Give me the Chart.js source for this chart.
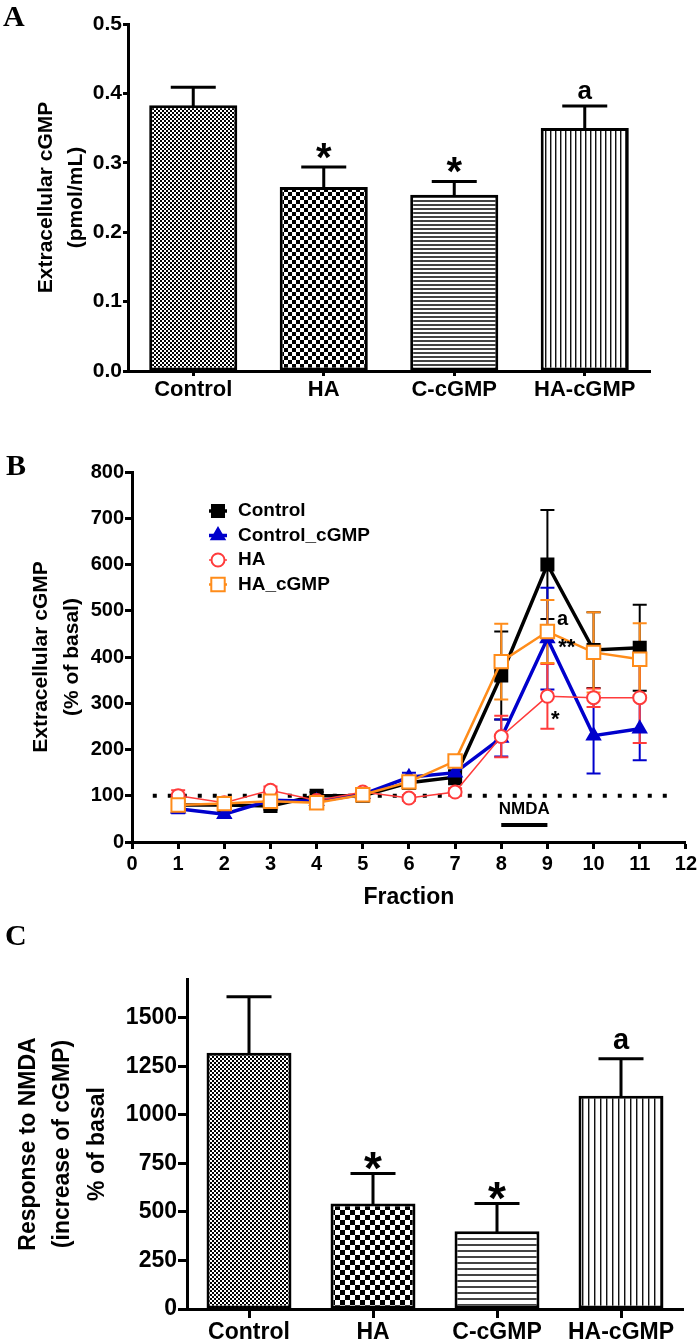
<!DOCTYPE html>
<html>
<head>
<meta charset="utf-8">
<script src="https://cdn.jsdelivr.net/npm/chart.js@4.4.0/dist/chart.umd.min.js"></script>
<style>
body { margin: 0; background: #fff; width: 700px; height: 1343px; position: relative; overflow: hidden; }
canvas { position: absolute; left: 0; }
.panel { position: absolute; font: bold 30px "Liberation Serif", "DejaVu Serif", serif; line-height: 30px; }
</style>
</head>
<body>
<canvas id="chartA" width="700" height="420" style="top:0"></canvas>
<canvas id="chartB" width="700" height="500" style="top:420px"></canvas>
<canvas id="chartC" width="700" height="423" style="top:920px"></canvas>
<div class="panel" style="left:3px;top:1px">A</div>
<div class="panel" style="left:6px;top:450px">B</div>
<div class="panel" style="left:5px;top:920px">C</div>
<script>
// ---- data ----
var groups = ['Control', 'HA', 'C-cGMP', 'HA-cGMP'];
var marks = ['', '*', '*', 'a'];

// panel A: extracellular cGMP (pmol/mL)
var cgmpMean = [0.383, 0.265, 0.254, 0.350];
var cgmpSem = [0.026, 0.029, 0.019, 0.032];
var ticksA = [0, 0.1, 0.2, 0.3, 0.4, 0.5];

// panel B: time course, % of basal
var fractions = [1, 2, 3, 4, 5, 6, 7, 8, 9, 10, 11];
var ticksBx = [0, 1, 2, 3, 4, 5, 6, 7, 8, 9, 10, 11, 12];
var ticksBy = [0, 100, 200, 300, 400, 500, 600, 700, 800];
var controlB = [80, 80, 78, 100, 100, 128, 140, 360, 600, 415, 420];
var controlBErr = [8, 8, 8, 8, 8, 12, 15, 95, 118, 82, 93];
var controlCgmpB = [72, 60, 90, 88, 103, 140, 150, 225, 440, 230, 245];
var controlCgmpBErr = [10, 8, 8, 8, 8, 10, 15, 40, 110, 82, 68];
var haB = [100, 85, 112, 90, 108, 95, 108, 228, 315, 312, 312];
var haBErr = [12, 6, 8, 6, 6, 6, 8, 45, 70, 20, 98];
var haCgmpB = [80, 83, 88, 85, 102, 130, 175, 390, 455, 410, 395];
var haCgmpBErr = [8, 6, 8, 6, 6, 10, 12, 82, 68, 87, 78];
var nmdaWindow = [8, 9];

// panel C: response to NMDA
var responseMean = [1320, 544, 400, 1099];
var responseSem = [288, 154, 144, 190];
var ticksC = [0, 250, 500, 750, 1000, 1250, 1500];

Chart.defaults.font.family = '"Liberation Sans", Arial, sans-serif';
Chart.defaults.font.weight = 'bold';
Chart.defaults.color = '#000';

function makePattern(kind, cell) {
    var c = document.createElement('canvas');
    var g = c.getContext('2d');
    if (kind === 'check') {
        c.width = c.height = cell * 2;
        g.fillStyle = '#fff'; g.fillRect(0, 0, cell * 2, cell * 2);
        g.fillStyle = '#000';
        g.fillRect(0, 0, cell, cell);
        g.fillRect(cell, cell, cell, cell);
    } else if (kind === 'hlines') {
        c.width = 4; c.height = cell;
        g.fillStyle = '#fff'; g.fillRect(0, 0, 4, cell);
        g.fillStyle = '#444'; g.fillRect(0, 0, 4, 2);
    } else {
        c.width = cell; c.height = 4;
        g.fillStyle = '#fff'; g.fillRect(0, 0, cell, 4);
        g.fillStyle = '#111'; g.fillRect(0, 0, 1, 4);
        g.fillStyle = '#999'; g.fillRect(1, 0, 1, 4);
    }
    return g.createPattern(c, 'repeat');
}

function tickList(arr) {
    return function (scale) { scale.ticks = arr.map(function (v) { return { value: v }; }); };
}

function fixSize(w, h) {
    return function (scale) {
        if (w) scale.width = w;
        if (h) scale.height = h;
    };
}

// error bars on bar charts (upper half only) + significance marks
var barExtras = {
    id: 'barExtras',
    afterDatasetsDraw: function (chart, args, opts) {
        var ctx = chart.ctx, y = chart.scales.y;
        var meta = chart.getDatasetMeta(0);
        var ds = chart.data.datasets[0];
        ctx.save();
        ctx.strokeStyle = '#000';
        ctx.lineWidth = 3;
        ctx.lineCap = 'square';
        meta.data.forEach(function (bar, i) {
            var top = y.getPixelForValue(ds.data[i]);
            var cap = y.getPixelForValue(ds.data[i] + opts.sem[i]);
            ctx.beginPath();
            ctx.moveTo(bar.x, top);
            ctx.lineTo(bar.x, cap);
            ctx.moveTo(bar.x - opts.capHalf, cap);
            ctx.lineTo(bar.x + opts.capHalf, cap);
            ctx.stroke();
            var m = opts.marks[i];
            if (!m) return;
            ctx.fillStyle = '#000';
            ctx.textAlign = 'center';
            ctx.textBaseline = 'alphabetic';
            if (m === '*') {
                ctx.font = 'bold ' + opts.starSize + 'px "Liberation Sans", Arial, sans-serif';
                ctx.fillText(m, bar.x, cap - opts.starGap + 0.57 * opts.starSize);
            } else {
                ctx.font = 'bold ' + opts.letterSize + 'px "Liberation Sans", Arial, sans-serif';
                ctx.fillText(m, bar.x, cap - opts.letterGap);
            }
        });
        ctx.restore();
    }
};

function barChart(id, means, opts) {
    return new Chart(document.getElementById(id), {
        type: 'bar',
        data: {
            labels: groups,
            datasets: [{
                data: means,
                backgroundColor: opts.patterns,
                borderColor: '#000',
                borderWidth: 3,
                borderSkipped: false,
                categoryPercentage: 1,
                barPercentage: opts.barPct
            }]
        },
        plugins: [barExtras],
        options: {
            responsive: false,
            animation: false,
            events: [],
            layout: { padding: opts.padding },
            plugins: {
                legend: { display: false },
                tooltip: { enabled: false },
                barExtras: {
                    sem: opts.sem, marks: marks, capHalf: opts.capHalf,
                    starSize: opts.starSize, starGap: opts.starGap,
                    letterSize: opts.letterSize, letterGap: opts.letterGap
                }
            },
            scales: {
                x: {
                    afterFit: fixSize(0, opts.xHeight),
                    grid: { offset: false, drawOnChartArea: false, tickLength: opts.tickLen, tickWidth: 3, tickColor: '#000' },
                    border: { color: '#000', width: 3 },
                    ticks: { font: { size: opts.catSize }, padding: 1, color: '#000' }
                },
                y: {
                    min: 0, max: opts.yMax,
                    afterFit: fixSize(opts.yWidth, 0),
                    afterBuildTicks: tickList(opts.ticks),
                    grid: { drawOnChartArea: false, tickLength: opts.tickLen, tickWidth: 3, tickColor: '#000' },
                    border: { color: '#000', width: 3 },
                    ticks: { font: { size: opts.tickSize }, padding: 1, color: '#000', callback: opts.fmt },
                    title: {
                        display: true, text: opts.title, color: '#000',
                        font: { size: opts.titleSize, lineHeight: opts.titleLH },
                        padding: { top: opts.titlePad, bottom: 0 }
                    }
                }
            }
        }
    });
}

barChart('chartA', cgmpMean, {
    patterns: [makePattern('check', 2), makePattern('check', 4), makePattern('hlines', 4), makePattern('vlines', 5)],
    sem: cgmpSem, barPct: 0.675, capHalf: 21,
    starSize: 40, starGap: 19, letterSize: 26, letterGap: 7,
    padding: { top: 24, right: 50, left: 0, bottom: 0 },
    xHeight: 49, yWidth: 128, yMax: 0.5, ticks: ticksA, tickLen: 5,
    catSize: 22, tickSize: 21,
    fmt: function (v) { return v.toFixed(1); },
    title: ['Extracellular cGMP', '(pmol/mL)'], titleSize: 21, titleLH: 1.45, titlePad: 31
});

barChart('chartC', responseMean, {
    patterns: [makePattern('check', 2), makePattern('check', 5), makePattern('hlines', 6), makePattern('vlines', 6)],
    sem: responseSem, barPct: 0.685, capHalf: 21,
    starSize: 46, starGap: 16, letterSize: 29, letterGap: 10,
    padding: { top: 59, right: 17, left: 0, bottom: 0 },
    xHeight: 34, yWidth: 187, yMax: 1700, ticks: ticksC, tickLen: 9,
    catSize: 23, tickSize: 23,
    fmt: function (v) { return String(v); },
    title: ['Response to NMDA', '(increase of cGMP)', '% of basal'], titleSize: 23, titleLH: 1.5, titlePad: 11
});

// panel B helpers: error bars, basal line, NMDA bar, legend, marks
var courseExtras = {
    id: 'courseExtras',
    beforeDatasetsDraw: function (chart) {
        var ctx = chart.ctx, x = chart.scales.x, y = chart.scales.y;
        ctx.save();
        // basal 100% dotted line
        ctx.strokeStyle = '#000';
        ctx.lineWidth = 4;
        ctx.setLineDash([4, 11]);
        ctx.beginPath();
        ctx.moveTo(x.getPixelForValue(0.45), y.getPixelForValue(100));
        ctx.lineTo(x.getPixelForValue(11.6), y.getPixelForValue(100));
        ctx.stroke();
        ctx.setLineDash([]);
        // NMDA window
        ctx.lineWidth = 4;
        ctx.beginPath();
        ctx.moveTo(x.getPixelForValue(nmdaWindow[0]), y.getPixelForValue(37));
        ctx.lineTo(x.getPixelForValue(nmdaWindow[1]), y.getPixelForValue(37));
        ctx.stroke();
        ctx.fillStyle = '#000';
        ctx.font = 'bold 17px "Liberation Sans", Arial, sans-serif';
        ctx.textAlign = 'center';
        ctx.textBaseline = 'middle';
        ctx.fillText('NMDA', x.getPixelForValue((nmdaWindow[0] + nmdaWindow[1]) / 2), y.getPixelForValue(71));
        // error bars
        chart.data.datasets.forEach(function (ds, di) {
            var meta = chart.getDatasetMeta(di);
            ctx.strokeStyle = ds.borderColor;
            ctx.lineWidth = 2;
            meta.data.forEach(function (pt, i) {
                var v = ds.data[i].y;
                var hi = y.getPixelForValue(v + ds.errors[i]);
                var lo = y.getPixelForValue(v - ds.errors[i]);
                ctx.beginPath();
                ctx.moveTo(pt.x, lo); ctx.lineTo(pt.x, hi);
                ctx.moveTo(pt.x - 7, hi); ctx.lineTo(pt.x + 7, hi);
                ctx.moveTo(pt.x - 7, lo); ctx.lineTo(pt.x + 7, lo);
                ctx.stroke();
            });
        });
        ctx.restore();
    },
    afterDatasetsDraw: function (chart) {
        var ctx = chart.ctx, x = chart.scales.x, y = chart.scales.y, area = chart.chartArea;
        ctx.save();
        // legend
        var lx = area.left + 86, ly = area.top + 39;
        chart.data.datasets.forEach(function (ds, i) {
            var yy = ly + i * 24.5;
            ctx.strokeStyle = ds.borderColor;
            ctx.lineWidth = ds.borderWidth;
            ctx.beginPath();
            ctx.moveTo(lx - 9, yy); ctx.lineTo(lx + 9, yy);
            ctx.stroke();
            ctx.fillStyle = ds.pointBackgroundColor;
            ctx.lineWidth = ds.pointBorderWidth;
            Chart.helpers.drawPoint(ctx, { pointStyle: ds.pointStyle, radius: ds.pointRadius, rotation: 0, borderWidth: ds.pointBorderWidth }, lx, yy);
            ctx.fillStyle = '#000';
            ctx.font = 'bold 19px "Liberation Sans", Arial, sans-serif';
            ctx.textAlign = 'left';
            ctx.textBaseline = 'middle';
            ctx.fillText(ds.label, lx + 20, yy);
        });
        // significance marks at fraction 9
        ctx.textAlign = 'center';
        ctx.textBaseline = 'middle';
        ctx.font = 'bold 20px "Liberation Sans", Arial, sans-serif';
        ctx.fillText('a', x.getPixelForValue(9.33), y.getPixelForValue(482));
        ctx.font = 'bold 22px "Liberation Sans", Arial, sans-serif';
        ctx.fillText('**', x.getPixelForValue(9.42), y.getPixelForValue(420));
        ctx.fillText('*', x.getPixelForValue(9.17), y.getPixelForValue(265));
        ctx.restore();
    }
};

function series(label, values, errors, color, style, fill, radius, lw, order) {
    return {
        label: label,
        data: values.map(function (v, i) { return { x: fractions[i], y: v }; }),
        errors: errors,
        borderColor: color,
        borderWidth: lw,
        pointStyle: style,
        pointRadius: radius,
        pointBackgroundColor: fill,
        pointBorderColor: color,
        pointBorderWidth: 2,
        order: order
    };
}

new Chart(document.getElementById('chartB'), {
    type: 'line',
    data: {
        datasets: [
            series('Control', controlB, controlBErr, '#000000', 'rect', '#000000', 8.5, 3.5, 4),
            series('Control_cGMP', controlCgmpB, controlCgmpBErr, '#0000cc', 'triangle', '#0000cc', 7.5, 3.5, 3),
            series('HA', haB, haBErr, '#ff3b3b', 'circle', '#ffffff', 6.5, 1.5, 2),
            series('HA_cGMP', haCgmpB, haCgmpBErr, '#ff8c1a', 'rect', '#ffffff', 9.5, 2.5, 1)
        ]
    },
    plugins: [courseExtras],
    options: {
        responsive: false,
        animation: false,
        events: [],
        layout: { padding: { top: 52, right: 14, left: 0, bottom: 0 } },
        plugins: { legend: { display: false }, tooltip: { enabled: false } },
        scales: {
            x: {
                type: 'linear', min: 0, max: 12,
                afterFit: fixSize(0, 78),
                afterBuildTicks: tickList(ticksBx),
                grid: { drawOnChartArea: false, tickLength: 7, tickWidth: 3, tickColor: '#000' },
                border: { color: '#000', width: 3 },
                ticks: { font: { size: 20 }, padding: 3, color: '#000' },
                title: { display: true, text: 'Fraction', color: '#000', font: { size: 23 }, padding: { top: 0, bottom: 9 } }
            },
            y: {
                min: 0, max: 800,
                afterFit: fixSize(132, 0),
                afterBuildTicks: tickList(ticksBy),
                grid: { drawOnChartArea: false, tickLength: 7, tickWidth: 3, tickColor: '#000' },
                border: { color: '#000', width: 3 },
                ticks: { font: { size: 20 }, padding: 1, color: '#000' },
                title: {
                    display: true, text: ['Extracellular cGMP', '(% of basal)'], color: '#000',
                    font: { size: 21, lineHeight: 1.5 }, padding: { top: 25, bottom: 0 }
                }
            }
        }
    }
});
</script>
</body>
</html>
